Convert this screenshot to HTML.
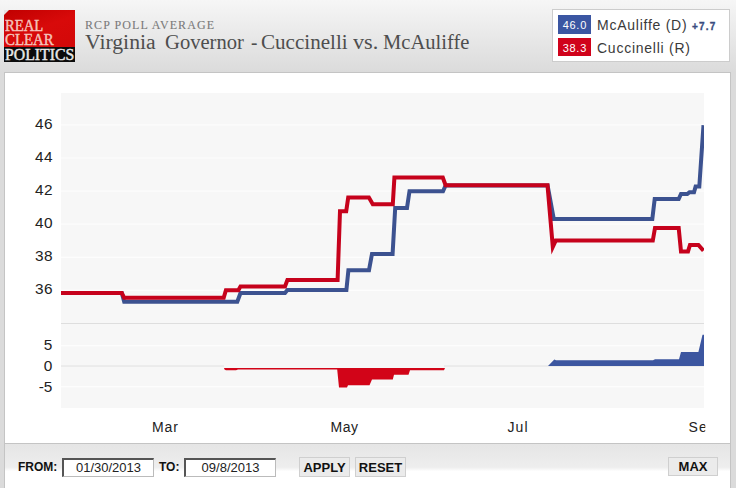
<!DOCTYPE html>
<html><head><meta charset="utf-8"><style>
*{margin:0;padding:0;box-sizing:border-box}
html,body{width:736px;height:488px;overflow:hidden}
body{position:relative;background:linear-gradient(#f6f6f6,#dbdbdb 72px,#dbdbdb);font-family:"Liberation Sans",sans-serif}
.logo{position:absolute;left:4px;top:10px;width:71px;height:52px;background:linear-gradient(160deg,#c00000,#d80a0a 40%,#d00808);overflow:hidden}
.logo .blk{position:absolute;left:0;top:37.3px;width:71px;height:15px;background:#0c0c0c}
.logo span{position:absolute;left:1.3px;font-family:"Liberation Serif",serif;font-size:16.5px;line-height:16px;white-space:nowrap;-webkit-text-stroke:0.45px currentColor;transform-origin:left}
.sub{position:absolute;left:85px;top:18px;font-family:"Liberation Serif",serif;font-size:12px;letter-spacing:1.07px;color:#7a7a7a;-webkit-text-stroke:0.1px #7a7a7a}
.tw{position:absolute;top:31px;font-family:"Liberation Serif",serif;font-size:20px;color:#4e4e4e;white-space:nowrap;transform-origin:left}
.legend{position:absolute;left:552px;top:9px;width:178px;height:53px;background:#fff;border:1px solid #ccc}
.sw{position:absolute;left:5px;width:33px;height:19px;color:#fff;font-size:11px;letter-spacing:0.7px;text-indent:0.7px;line-height:20px;text-align:center}
.lt{position:absolute;left:44px;font-size:14px;letter-spacing:0.75px;color:#3a3a3a;white-space:nowrap}
.chart{position:absolute;left:4px;top:72px;width:727px;height:372px;background:#fff;border:1px solid #c4c4c4;border-bottom:none}
.bar{position:absolute;left:4px;top:443px;width:727px;height:45px;background:linear-gradient(#e5e5e5,#eeeeee 53%,#fff 62%,#fff);border-top:1px solid #c4c4c4;border-left:1px solid #c4c4c4;border-right:1px solid #c4c4c4}
svg{position:absolute;left:0;top:0}
.lbl{position:absolute;font-size:12px;font-weight:bold;color:#111}
.inp{position:absolute;top:457.5px;height:19px;background:#fff;border:1px solid #bbb;border-top:2px solid #555;border-left:2px solid #555;font-size:13px;color:#222;text-align:center;line-height:16px}
.btn{position:absolute;top:457px;height:20px;background:#ebebeb;border:1px solid #cfcfcf;font-size:13px;font-weight:bold;color:#111;text-align:center;line-height:20px}
</style></head><body>
<div class="logo"><i style="position:absolute;left:0;top:0;border-style:solid;border-width:5px 5px 0 0;border-color:#e4e4e4 transparent transparent transparent"></i><span style="top:7.8px;color:#f4c4bc;transform:scaleX(0.89)">REAL</span><span style="top:22px;color:#f4c4bc;transform:scaleX(0.9)">CLEAR</span><div class="blk"></div><span style="top:36.5px;color:#e8e8e8;transform:scaleX(0.955)">POLITICS</span></div>
<div class="sub">RCP POLL AVERAGE</div>
<span class="tw" style="left:85.4px;transform:scaleX(1.086)">Virginia</span><span class="tw" style="left:164.5px;transform:scaleX(1.030)">Governor</span><span class="tw" style="left:250.9px;transform:scaleX(0.960)">-</span><span class="tw" style="left:261.4px;transform:scaleX(1.054)">Cuccinelli</span><span class="tw" style="left:353.3px;transform:scaleX(1.109)">vs.</span><span class="tw" style="left:382.7px;transform:scaleX(1.028)">McAuliffe</span>
<div class="legend">
 <div class="sw" style="top:5px;background:#3b56a2">46.0</div><div class="lt" style="top:7px">McAuliffe (D) <b style="font-size:10px;letter-spacing:1.15px;color:#3a4c80;-webkit-text-stroke:0.3px #3a4c80">+7.7</b></div>
 <div class="sw" style="top:28px;height:18px;background:#d0021b">38.3</div><div class="lt" style="top:30px">Cuccinelli (R)</div>
</div>
<div class="chart"></div>
<svg width="736" height="488" viewBox="0 0 736 488" font-family="Liberation Sans" font-size="14" fill="#222">
 <rect x="61" y="93" width="643" height="230" fill="#f7f7f7"/>
 <line x1="61" x2="704" y1="124.9" y2="124.9" stroke="#fdfdfd" stroke-width="1.2"/><line x1="61" x2="704" y1="158.0" y2="158.0" stroke="#fdfdfd" stroke-width="1.2"/><line x1="61" x2="704" y1="191.1" y2="191.1" stroke="#fdfdfd" stroke-width="1.2"/><line x1="61" x2="704" y1="224.2" y2="224.2" stroke="#fdfdfd" stroke-width="1.2"/><line x1="61" x2="704" y1="257.3" y2="257.3" stroke="#fdfdfd" stroke-width="1.2"/><line x1="61" x2="704" y1="290.4" y2="290.4" stroke="#fdfdfd" stroke-width="1.2"/>
 <rect x="61" y="323" width="643" height="85" fill="#f7f7f7"/>
 <line x1="61" x2="704" y1="323.5" y2="323.5" stroke="#dedede" stroke-width="1"/>
 <line x1="61" x2="704" y1="345.6" y2="345.6" stroke="#fdfdfd" stroke-width="1.2"/>
 <path d="M61 366H224M444 366H704" stroke="#e0e0e0" stroke-width="1"/>
 <line x1="61" x2="704" y1="386.6" y2="386.6" stroke="#fdfdfd" stroke-width="1.2"/>
 <text transform="translate(35,129.3) scale(1.1,1)" x="0" y="0" letter-spacing="0.3">46</text><text transform="translate(35,162.2) scale(1.1,1)" x="0" y="0" letter-spacing="0.3">44</text><text transform="translate(35,195.0) scale(1.1,1)" x="0" y="0" letter-spacing="0.3">42</text><text transform="translate(35,227.9) scale(1.1,1)" x="0" y="0" letter-spacing="0.3">40</text><text transform="translate(35,260.7) scale(1.1,1)" x="0" y="0" letter-spacing="0.3">38</text><text transform="translate(35,293.6) scale(1.1,1)" x="0" y="0" letter-spacing="0.3">36</text>
 <text transform="translate(52.4,350.4) scale(1.1,1)" text-anchor="end">5</text>
 <text transform="translate(52.4,371.2) scale(1.1,1)" text-anchor="end">0</text>
 <text transform="translate(52.4,391.5) scale(1.1,1)" text-anchor="end">-5</text>
 <text x="152" y="431.5" letter-spacing="0.9">Mar</text>
 <text x="330.5" y="431.5" letter-spacing="0.5">May</text>
 <text x="507.5" y="431.5" letter-spacing="1.1">Jul</text>
 <clipPath id="se"><rect x="600" y="410" width="105.3" height="30"/></clipPath><text x="688.6" y="431.5" letter-spacing="1" clip-path="url(#se)">Se</text>
 <polygon points="224.0,368.1 224.5,369.5 226.0,370.2 236.0,370.2 238.0,369.4 337.2,369.4 339.0,387.5 347.0,387.5 348.0,385.3 369.5,385.3 372.0,379.6 392.8,379.6 394.0,374.8 408.5,374.8 410.0,370.2 444.0,370.2 445.0,368.1" fill="#d20418"/>
 <polygon points="548.0,366.0 554.3,359.4 556.0,360.3 653.0,360.3 655.0,359.3 679.0,359.3 681.0,351.9 698.4,351.9 702.5,334.7 704.0,334.7 704.0,366.0" fill="#3c56a0"/>
 <clipPath id="c"><rect x="61" y="93" width="643" height="230"/></clipPath>
 <g clip-path="url(#c)" fill="none" stroke-width="4" stroke-linejoin="miter">
  <polyline points="61.0,292.9 121.8,292.9 124.2,301.7 237.3,301.7 240.5,293.0 285.0,293.0 287.4,290.0 346.4,290.0 348.4,270.2 369.0,270.2 372.0,253.9 392.6,253.9 395.2,207.9 407.0,207.9 409.5,191.2 443.0,191.2 445.6,185.4 547.6,185.4 553.8,219.1 652.3,219.1 654.7,199.0 678.7,199.0 681.0,194.0 687.3,194.0 689.5,192.2 694.0,192.2 695.6,186.6 699.3,186.6 703.5,125.2" stroke="#3c5290"/>
  <polyline points="61.0,292.9 121.8,292.9 124.2,297.8 223.7,297.8 225.9,290.3 238.4,290.3 240.5,286.4 285.0,286.4 287.4,280.0 337.6,280.0 340.0,211.2 346.2,211.2 348.2,197.6 368.9,197.6 372.8,204.2 392.8,204.2 394.4,177.6 442.8,177.6 445.6,185.3 547.5,185.3 552.8,246.9 555.7,240.6 652.8,240.6 655.0,228.0 678.7,228.0 681.0,251.4 688.0,251.4 690.0,244.9 698.4,244.9 703.5,250.7" stroke="#c6021c"/>
 </g>
</svg>
<div class="bar"></div>
<div class="lbl" style="left:18px;top:460px">FROM:</div>
<div class="inp" style="left:62px;width:92px">01/30/2013</div>
<div class="lbl" style="left:159px;top:460px">TO:</div>
<div class="inp" style="left:184px;width:92px">09/8/2013</div>
<div class="btn" style="left:299px;width:51px">APPLY</div>
<div class="btn" style="left:355px;width:51px">RESET</div>
<div class="btn" style="left:668px;width:50px;height:19px;line-height:18px;font-size:13px">MAX</div>
</body></html>
